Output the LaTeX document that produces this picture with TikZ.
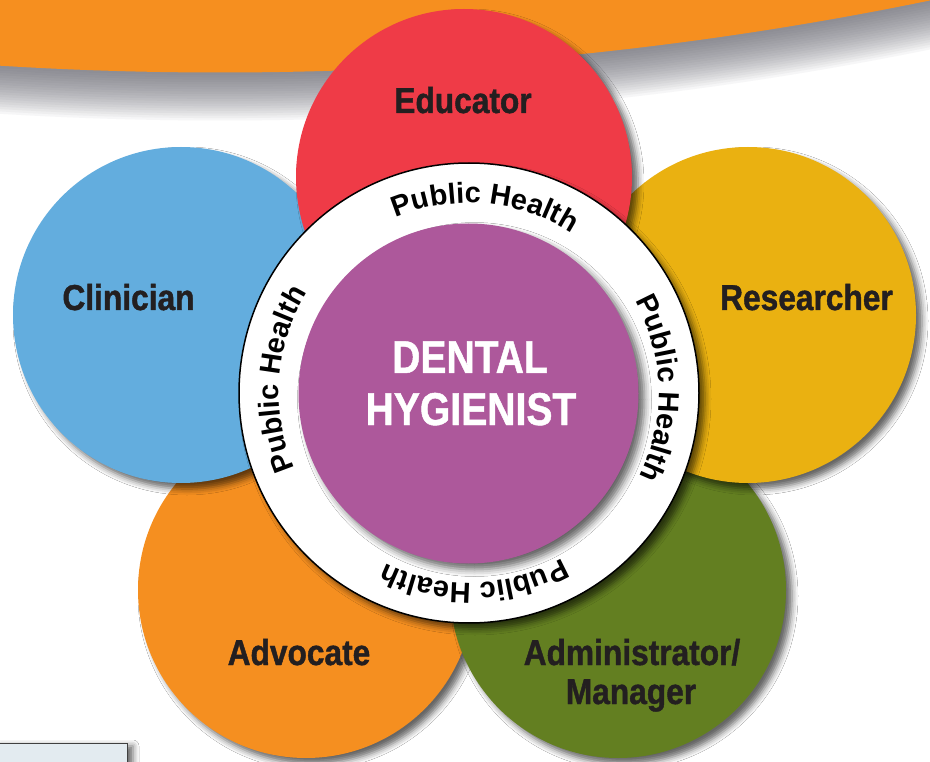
\documentclass[tikz,border=0pt]{standalone}
\usepackage{fontspec}
\setmainfont{Liberation Sans}
\newfontfamily\rolefont{Liberation Sans}[FakeStretch=0.88, FakeBold=1.2]
\newfontfamily\centerfont{Liberation Sans}[FakeStretch=0.85, FakeBold=1]
\usetikzlibrary{shadows.blur,decorations.text}
\definecolor{bannerorange}{HTML}{F68F1F}
\definecolor{edured}{HTML}{EF3B47}
\definecolor{cliblue}{HTML}{63ADDE}
\definecolor{resyellow}{HTML}{EAB111}
\definecolor{advorange}{HTML}{F58F20}
\definecolor{admgreen}{HTML}{637F21}
\definecolor{centerpurple}{HTML}{AD589B}
\definecolor{textdark}{HTML}{231F20}
\definecolor{shadowgray}{HTML}{5A5A64}
\definecolor{boxfill}{HTML}{E3EBF0}
\newcommand\phfont{\bfseries\fontsize{29}{30}\selectfont}
\begin{document}
\begin{tikzpicture}[x=1pt,y=1pt,
  softshadow/.style={blur shadow={shadow xshift=6pt, shadow yshift=-6pt, shadow blur radius=6pt, shadow opacity=60}},
  petal/.style={circle, inner sep=0pt, minimum size=336pt, softshadow},
  rolelabel/.style={anchor=base, text=textdark, font=\rolefont\bfseries\fontsize{36}{40}\selectfont},
  centerlabel/.style={anchor=base, text=white, font=\centerfont\bfseries\fontsize{46}{50}\selectfont},
  arctext/.style={decorate, decoration={text along path, text={|\phfont|Public Health}, text align=center}}]
\useasboundingbox (0,0) rectangle (930,-762);
\fill[white] (0,0) rectangle (930,-762);

% banner with its shadow
\foreach \i in {1,...,20}
  \fill[shadowgray, opacity=0.05] (220,3427.5) circle ({3500+2.4*\i});
\fill[bannerorange] (220,3427.5) circle (3500);

% small box at bottom left
\draw[fill=boxfill, draw=black!75, line width=1pt,
  blur shadow={shadow xshift=6pt, shadow yshift=-3pt, shadow blur radius=6pt, shadow opacity=60}]
  (-5,-743) rectangle (127,-780);

% petals
\node[petal, fill=advorange] (adv) at (306,-590) {};
\node[petal, fill=admgreen] (adm) at (618,-590) {};
\node[petal, fill=cliblue] (cli) at (181,-315) {};
\node[petal, fill=resyellow] (res) at (748,-315) {};
\node[petal, fill=edured] (edu) at (464,-177) {};

% ring and centre
\node[circle, inner sep=0pt, minimum size=460pt, fill=white, draw=black, line width=1.5pt, softshadow] (ring) at (469,-393) {};
\node[circle, inner sep=0pt, minimum size=340pt, fill=centerpurple,
  blur shadow={shadow xshift=6pt, shadow yshift=-6pt, shadow blur radius=7pt, shadow opacity=60}] (hub) at (468.5,-393.5) {};

% Public Health along the ring
\path[shift={(469,-393)}, arctext] (130:190) arc[start angle=130, end angle=40, radius=190];
\path[shift={(469,-393)}, arctext] (46.5:190) arc[start angle=46.5, end angle=-43.5, radius=190];
\path[shift={(469,-393)}, arctext] (-43.4:190) arc[start angle=-43.4, end angle=-133.4, radius=190];
\path[shift={(469,-393)}, arctext] (220.8:190) arc[start angle=220.8, end angle=130.8, radius=190];

% labels
\node[rolelabel] (edut) at (463,-113) {Educator};
\node[rolelabel] (clit) at (128.5,-310) {Clinician};
\node[rolelabel] (rest) at (806.5,-310) {Researcher};
\node[rolelabel] (advt) at (299,-665) {Advocate};
\node[rolelabel] (admt) at (632,-665) {Administrator/};
\node[rolelabel] (mgrt) at (631,-704) {Manager};
\node[centerlabel] (dent) at (470,-373) {DENTAL};
\node[centerlabel] (hyg) at (471,-425) {HYGIENIST};
\end{tikzpicture}
\end{document}
